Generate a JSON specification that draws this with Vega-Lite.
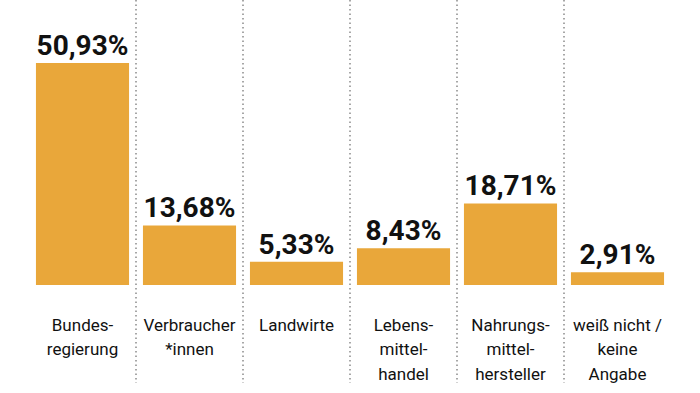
{
  "$schema": "https://vega.github.io/schema/vega-lite/v6.json",
  "width": 642,
  "height": 285,
  "autosize": "none",
  "padding": {"left": 29, "right": 29, "top": 0, "bottom": 108},
  "background": "white",
  "config": {"view": {"stroke": null}},
  "data": {
    "values": [
      {"cat": "Bundes-|regierung", "order": 1, "value": 50.93},
      {"cat": "Verbraucher|*innen", "order": 2, "value": 13.68},
      {"cat": "Landwirte", "order": 3, "value": 5.33},
      {"cat": "Lebens-|mittel-|handel", "order": 4, "value": 8.43},
      {"cat": "Nahrungs-|mittel-|hersteller", "order": 5, "value": 18.71},
      {"cat": "weiß nicht /|keine|Angabe", "order": 6, "value": 2.91}
    ]
  },
  "transform": [
    {"calculate": "replace(format(datum.value, '.2f'), '.', ',') + '%'", "as": "label"}
  ],
  "encoding": {
    "y": {
      "field": "value", "type": "quantitative",
      "scale": {"domain": [0, 65.4], "nice": false, "zero": false},
      "axis": null
    }
  },
  "layer": [
    {
      "encoding": {
        "x": {
          "field": "cat", "type": "nominal", "sort": {"field": "order"},
          "scale": {"paddingInner": 0.13, "paddingOuter": 0.065},
          "axis": {
            "title": null, "domain": false, "ticks": false, "labelAngle": 0,
            "labelExpr": "split(datum.label, '|')",
            "labelFont": "Roboto",
            "labelFontSize": 17, "labelLineHeight": 24.5, "labelColor": "#111111",
            "labelPadding": 32, "labelBaseline": "top"
          }
        }
      },
      "layer": [
        {
          "mark": {"type": "bar", "color": "#E9A73A"}
        },
        {
          "mark": {
            "type": "text", "baseline": "alphabetic", "dy": -8,
            "font": "Roboto",
            "fontWeight": "bold", "fontSize": 28, "color": "#111111"
          },
          "encoding": {
            "text": {"field": "label"}
          }
        }
      ]
    },
    {
      "transform": [{"filter": "datum.order > 1"}],
      "mark": {"type": "rule", "color": "#8a8a8a", "strokeWidth": 1.5, "strokeDash": [1.5, 3]},
      "encoding": {
        "x": {
          "field": "cat", "type": "nominal", "sort": {"field": "order"},
          "scale": {"domain": ["Bundes-|regierung", "Verbraucher|*innen", "Landwirte", "Lebens-|mittel-|handel", "Nahrungs-|mittel-|hersteller", "weiß nicht /|keine|Angabe"], "paddingInner": 0, "paddingOuter": 0},
          "bandPosition": 0,
          "axis": null
        },
        "y": {"datum": 65.4},
        "y2": {"datum": -22.5}
      }
    }
  ],
  "resolve": {"scale": {"x": "independent"}}
}
